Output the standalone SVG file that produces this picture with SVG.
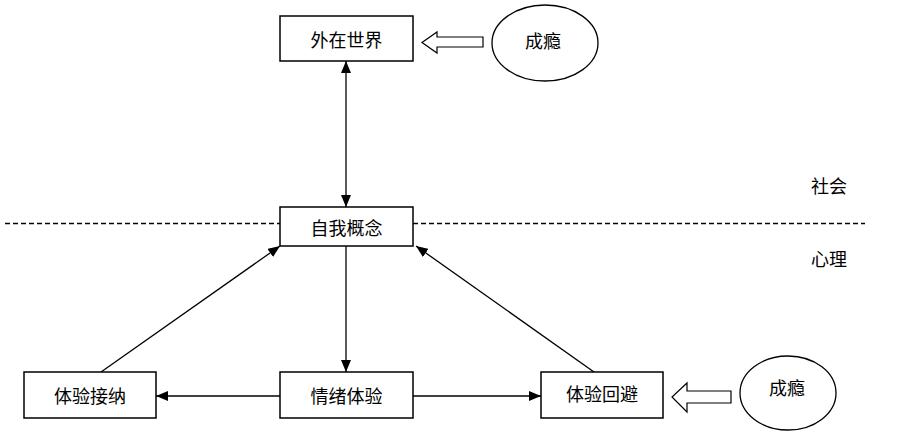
<svg xmlns="http://www.w3.org/2000/svg" width="903" height="435" viewBox="0 0 903 435">
<style>
.box{fill:#fff;stroke:#000;stroke-width:1.5}
.ell{fill:#fff;stroke:#000;stroke-width:1.3}
.t{font-family:"Noto Sans CJK SC","Liberation Sans",sans-serif;font-size:18px;fill:#000;text-anchor:middle;dominant-baseline:central}
.ln{stroke:#000;stroke-width:1.3;fill:none}
.blk{fill:#fff;stroke:#000;stroke-width:1.2}
</style>
<defs>
<marker id="ah" viewBox="0 0 12 10" refX="12" refY="5" markerWidth="12" markerHeight="10" markerUnits="userSpaceOnUse" orient="auto-start-reverse">
<path d="M0,0 L12,5 L0,10 Z" fill="#000"/>
</marker>
</defs>
<rect width="903" height="435" fill="#fff"/>
<line x1="5" y1="223.5" x2="865" y2="223.5" stroke="#000" stroke-width="1.3" stroke-dasharray="5,3"/>
<g id="connectors">
<line class="ln" x1="346" y1="61" x2="346" y2="207" marker-start="url(#ah)" marker-end="url(#ah)"/>
<line class="ln" x1="346" y1="246" x2="346" y2="372" marker-end="url(#ah)"/>
<line class="ln" x1="280" y1="396" x2="156" y2="396" marker-end="url(#ah)"/>
<line class="ln" x1="413" y1="396" x2="541" y2="396" marker-end="url(#ah)"/>
<line class="ln" x1="101" y1="372" x2="280" y2="246" marker-end="url(#ah)"/>
<line class="ln" x1="594" y1="372" x2="416" y2="246" marker-end="url(#ah)"/>
<path class="blk" d="M483,37 L437,37 L437,32 L422,42.5 L437,53 L437,47 L483,47 Z"/>
<path class="blk" d="M731,391 L687,391 L687,383 L672,397 L687,412 L687,403 L731,403 Z"/>
</g>
<g id="node-world"><rect class="box" x="280" y="16" width="133" height="45"/><text class="t" x="346.5" y="38.5">外在世界</text></g>
<g id="node-addict-top"><ellipse class="ell" cx="545" cy="43" rx="53" ry="38"/><text class="t" x="543" y="40">成瘾</text></g>
<g id="node-self"><rect class="box" x="280" y="207" width="133" height="39"/><text class="t" x="346.5" y="226.5">自我概念</text></g>
<g id="node-emotion"><rect class="box" x="280" y="372" width="133" height="46"/><text class="t" x="346.5" y="395">情绪体验</text></g>
<g id="node-accept"><rect class="box" x="24" y="372" width="132" height="46"/><text class="t" x="90" y="395">体验接纳</text></g>
<g id="node-avoid"><rect class="box" x="541" y="372" width="122" height="46"/><text class="t" x="602" y="393">体验回避</text></g>
<g id="node-addict-bottom"><ellipse class="ell" cx="788" cy="393" rx="48" ry="37"/><text class="t" x="787" y="387">成瘾</text></g>
<text class="t" x="829" y="185">社会</text>
<text class="t" x="829" y="258">心理</text>
</svg>
